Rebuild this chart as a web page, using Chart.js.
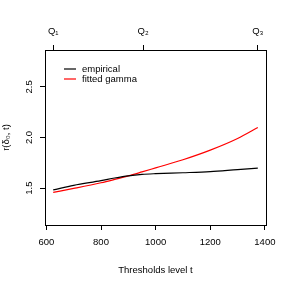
<!DOCTYPE html>
<html>
<head>
<meta charset="utf-8">
<script src="https://cdn.jsdelivr.net/npm/chart.js@4.4.1/dist/chart.umd.min.js"></script>
<style>
  html, body { margin: 0; padding: 0; background: #fff; }
  #wrap { width: 289px; height: 289px; }
</style>
</head>
<body>
<div id="wrap"><canvas id="gammaChart"></canvas></div>
<script>
// thresholds t and the two ratio curves
const thresholds = [625, 700, 800, 850, 900, 950, 1000, 1100, 1200, 1300, 1374];
const empirical  = [1.483, 1.528, 1.574, 1.600, 1.622, 1.636, 1.643, 1.652, 1.663, 1.683, 1.697];
const fitted     = [1.458, 1.497, 1.553, 1.586, 1.621, 1.660, 1.700, 1.780, 1.875, 1.990, 2.098];

const seriesNames = ['empirical', 'fitted gamma'];
const seriesColors = ['#000000', '#ff0000'];

const xTicks = [600, 800, 1000, 1200, 1400];
const yTicks = [1.5, 2.0, 2.5];
const quartiles = [625, 954, 1374];
const quartileLabels = ['Q\u2081', 'Q\u2082', 'Q\u2083'];

const FONT = { family: 'Liberation Sans, Arial, sans-serif', size: 9.5 };

const toPoints = (ys) => thresholds.map((t, i) => ({ x: t, y: ys[i] }));

// R style box round the plot + legend inside the top left corner
const boxAndLegend = {
  id: 'boxAndLegend',
  afterDraw(chart) {
    const { ctx, chartArea } = chart;
    ctx.save();
    ctx.strokeStyle = '#000';
    ctx.lineWidth = 1;
    ctx.strokeRect(chartArea.left + 0.5, chartArea.top + 0.5,
      chartArea.right - chartArea.left, chartArea.bottom - chartArea.top);

    ctx.font = FONT.size + 'px ' + FONT.family;
    ctx.textBaseline = 'middle';
    seriesNames.forEach((name, i) => {
      const y = 69 + i * 10;
      ctx.beginPath();
      ctx.strokeStyle = seriesColors[i];
      ctx.lineWidth = 1.2;
      ctx.moveTo(64, y);
      ctx.lineTo(76, y);
      ctx.stroke();
      ctx.fillStyle = '#000';
      ctx.fillText(name, 82, y);
    });
    ctx.restore();
  }
};

new Chart(document.getElementById('gammaChart'), {
  type: 'line',
  data: {
    datasets: [
      {
        label: seriesNames[0],
        data: toPoints(empirical),
        borderColor: seriesColors[0],
        borderWidth: 1.2,
        pointRadius: 0,
        cubicInterpolationMode: 'monotone',
        xAxisID: 'x',
        yAxisID: 'y'
      },
      {
        label: seriesNames[1],
        data: toPoints(fitted),
        borderColor: seriesColors[1],
        borderWidth: 1.2,
        pointRadius: 0,
        cubicInterpolationMode: 'monotone',
        xAxisID: 'x',
        yAxisID: 'y'
      }
    ]
  },
  options: {
    responsive: true,
    maintainAspectRatio: false,
    animation: false,
    layout: { padding: { left: 0, right: 23, top: 0, bottom: 0 } },
    plugins: {
      legend: { display: false },
      tooltip: { enabled: false }
    },
    scales: {
      x: {
        type: 'linear',
        position: 'bottom',
        min: 595,
        max: 1404,
        afterBuildTicks: (scale) => { scale.ticks = xTicks.map(v => ({ value: v })); },
        afterFit: (scale) => { scale.height = 64; },
        grid: { drawOnChartArea: false, drawTicks: true, tickLength: 5, color: '#000' },
        border: { display: true, color: '#000' },
        ticks: {
          font: FONT,
          color: '#000',
          padding: 7,
          maxRotation: 0,
          callback: (v) => String(v)
        },
        title: {
          display: true,
          text: 'Thresholds level t',
          font: FONT,
          color: '#000',
          padding: { top: 0, bottom: 13 }
        }
      },
      x2: {
        type: 'linear',
        position: 'top',
        min: 595,
        max: 1404,
        afterBuildTicks: (scale) => { scale.ticks = quartiles.map(v => ({ value: v })); },
        afterFit: (scale) => { scale.height = 50; },
        grid: { drawOnChartArea: false, drawTicks: true, tickLength: 5, color: '#000' },
        border: { display: true, color: '#000' },
        ticks: {
          font: FONT,
          color: '#000',
          padding: 8,
          maxRotation: 0,
          callback: (v) => quartileLabels[quartiles.indexOf(v)]
        }
      },
      y: {
        type: 'linear',
        position: 'left',
        min: 1.136,
        max: 2.864,
        afterBuildTicks: (scale) => { scale.ticks = yTicks.map(v => ({ value: v })); },
        afterFit: (scale) => { scale.width = 45; },
        grid: { drawOnChartArea: false, drawTicks: true, tickLength: 5, color: '#000' },
        border: { display: true, color: '#000' },
        ticks: {
          font: FONT,
          color: '#000',
          padding: 4,
          minRotation: 90,
          maxRotation: 90,
          crossAlign: 'center',
          callback: (v) => v.toFixed(1)
        },
        title: {
          display: true,
          text: 'r(\u03b4\u2080, t)',
          font: FONT,
          color: '#000',
          padding: { top: 1, bottom: 0 }
        }
      }
    }
  },
  plugins: [boxAndLegend]
});
</script>
</body>
</html>
